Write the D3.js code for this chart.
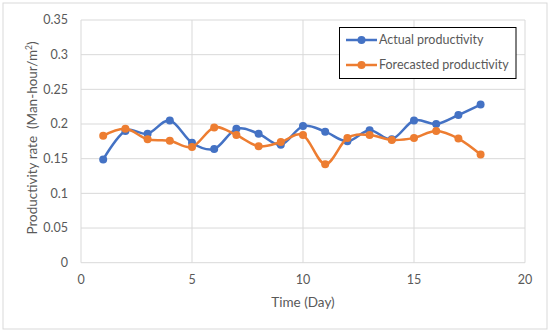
<!DOCTYPE html>
<html>
<head>
<meta charset="utf-8">
<script src="https://cdn.jsdelivr.net/npm/d3@7"></script>
<style>
  body { margin: 0; background: #fff; }
  text { font-family: Lato, "Open Sans", sans-serif; fill: #595959; }
</style>
</head>
<body>
<div id="chart"></div>
<script>
var days = [1, 2, 3, 4, 5, 6, 7, 8, 9, 10, 11, 12, 13, 14, 15, 16, 17, 18];
var actual = [0.149, 0.190, 0.186, 0.205, 0.173, 0.164, 0.193, 0.186, 0.170, 0.197,
              0.189, 0.175, 0.191, 0.178, 0.205, 0.200, 0.213, 0.228];
var forecast = [0.183, 0.193, 0.178, 0.176, 0.167, 0.195, 0.184, 0.168, 0.174, 0.184,
                0.142, 0.180, 0.184, 0.177, 0.180, 0.190, 0.179, 0.156];
var xTicks = [0, 5, 10, 15, 20];
var yTicks = [0, 0.05, 0.1, 0.15, 0.2, 0.25, 0.3, 0.35];
var seriesNames = ["Actual productivity", "Forecasted productivity"];
var colors = ["#4472C4", "#ED7D31"];

var width = 550, height = 332;
var svg = d3.select("#chart").append("svg")
  .attr("width", width)
  .attr("height", height);

// chart frame
svg.append("rect")
  .attr("x", 3).attr("y", 3)
  .attr("width", 544).attr("height", 326)
  .attr("fill", "#fff")
  .attr("stroke", "#d9d9d9");

var x = d3.scaleLinear().domain([0, 20]).range([81, 525]);
var y = d3.scaleLinear().domain([0, 0.35]).range([262.7, 20]);

// gridlines
svg.append("g").selectAll("line")
  .data(yTicks)
  .enter().append("line")
  .attr("x1", x(0)).attr("x2", x(20))
  .attr("y1", function(d) { return y(d); })
  .attr("y2", function(d) { return y(d); })
  .attr("stroke", "#d9d9d9");

svg.append("g").selectAll("line")
  .data(xTicks)
  .enter().append("line")
  .attr("y1", y(0)).attr("y2", y(0.35))
  .attr("x1", function(d) { return x(d); })
  .attr("x2", function(d) { return x(d); })
  .attr("stroke", "#d9d9d9");

// tick labels
svg.append("g").selectAll("text")
  .data(yTicks)
  .enter().append("text")
  .attr("x", 68)
  .attr("y", function(d) { return y(d); })
  .attr("dy", "0.35em")
  .attr("text-anchor", "end")
  .style("font-size", "12.5px")
  .text(function(d) { return +d.toFixed(2); });

svg.append("g").selectAll("text")
  .data(xTicks)
  .enter().append("text")
  .attr("x", function(d) { return x(d); })
  .attr("y", 280)
  .attr("dy", "0.35em")
  .attr("text-anchor", "middle")
  .style("font-size", "12.5px")
  .text(function(d) { return d; });

// axis titles
svg.append("text")
  .attr("x", 303).attr("y", 302)
  .attr("dy", "0.35em")
  .attr("text-anchor", "middle")
  .style("font-size", "13.5px")
  .text("Time (Day)");

var yt = svg.append("text")
  .attr("transform", "translate(32,138) rotate(-90)")
  .attr("dy", "0.35em")
  .attr("text-anchor", "middle")
  .attr("xml:space", "preserve")
  .style("white-space", "pre")
  .style("font-size", "13.5px");
yt.append("tspan").text("Productivity rate  (Man-hour/m");
yt.append("tspan").attr("baseline-shift", "super").style("font-size", "8.5px").text("2");
yt.append("tspan").text(")");

// series
var allSeries = [actual, forecast];
var line = d3.line()
  .x(function(d, i) { return x(days[i]); })
  .y(function(d) { return y(d); })
  .curve(d3.curveCardinal.tension(0));

allSeries.forEach(function(vals, s) {
  svg.append("path")
    .datum(vals)
    .attr("d", line)
    .attr("fill", "none")
    .attr("stroke", colors[s])
    .attr("stroke-width", 2.5);
  svg.append("g").selectAll("circle")
    .data(vals)
    .enter().append("circle")
    .attr("cx", function(d, i) { return x(days[i]); })
    .attr("cy", function(d) { return y(d); })
    .attr("r", 4)
    .attr("fill", colors[s]);
});

// legend
var lg = svg.append("g");
lg.append("rect")
  .attr("x", 339.5).attr("y", 27.5)
  .attr("width", 176.5).attr("height", 51)
  .attr("fill", "#fff")
  .attr("stroke", "#000")
  .attr("stroke-width", 1);
seriesNames.forEach(function(name, i) {
  var ly = 40 + i * 25;
  lg.append("line")
    .attr("x1", 346).attr("x2", 377)
    .attr("y1", ly).attr("y2", ly)
    .attr("stroke", colors[i])
    .attr("stroke-width", 2.5);
  lg.append("circle")
    .attr("cx", 361.5).attr("cy", ly).attr("r", 4)
    .attr("fill", colors[i]);
  lg.append("text")
    .attr("x", 379).attr("y", ly)
    .attr("dy", "0.35em")
    .style("font-size", "12.5px")
    .text(name);
});
</script>
</body>
</html>
